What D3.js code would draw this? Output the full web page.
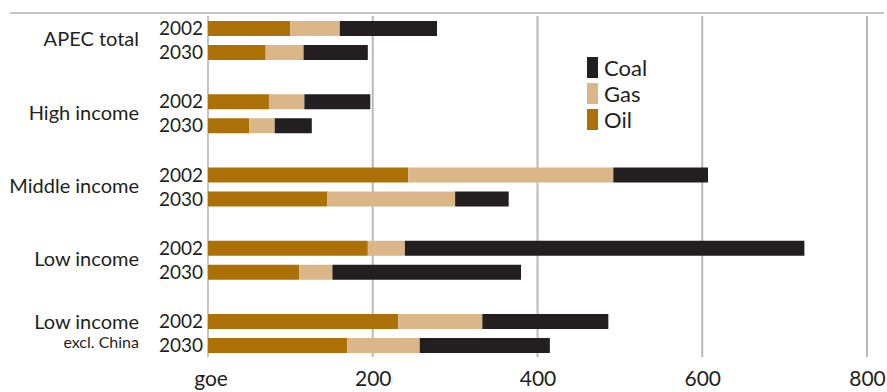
<!DOCTYPE html>
<html>
<head>
<meta charset="utf-8">
<script src="https://cdn.jsdelivr.net/npm/d3@7"></script>
<style>
  html, body { margin: 0; padding: 0; background: #fff; }
  svg { display: block; }
  text { font-family: Lato, "Open Sans", sans-serif; fill: #231f20; font-weight: 400; }
</style>
</head>
<body>
<svg id="chart" width="887" height="392"></svg>
<script>
// Energy demand per unit of output, by income group (goe)
const groups = ["APEC total", "High income", "Middle income", "Low income", "Low income excl. China"];
const years = ["2002", "2030"];
const fuels = ["Oil", "Gas", "Coal"];
const fuelColors = ["#ab7006", "#dbb688", "#231f20"];

// values per group, in the order 2002, 2030
const oil  = [[100, 70], [74, 50], [243, 145], [194, 111], [231, 169]];
const gas  = [[60, 46], [43, 31], [249, 155], [45, 40], [102, 88]];
const coal = [[118, 78], [80, 45], [115, 65], [485, 229], [153, 158]];

const xTicks = [200, 400, 600, 800];
const unitLabel = "goe";

const svg = d3.select("#chart");

const x = d3.scaleLinear().domain([0, 800]).range([208, 867]);
const yGroup = d3.scaleBand().domain(groups).range([21, 353]).paddingInner(0.4676).paddingOuter(0);
const yYear = d3.scaleBand().domain(years).range([0, yGroup.bandwidth()]).paddingInner(0.375).paddingOuter(0);

// rows for stacking
const rows = [];
groups.forEach((g, gi) => {
  years.forEach((yr, yi) => {
    rows.push({ group: g, year: yr, Oil: oil[gi][yi], Gas: gas[gi][yi], Coal: coal[gi][yi] });
  });
});
const stacked = d3.stack().keys(fuels)(rows);
const color = d3.scaleOrdinal().domain(fuels).range(fuelColors);

// frame line across the top
svg.append("line")
  .attr("x1", 10).attr("x2", 884)
  .attr("y1", 13).attr("y2", 13)
  .attr("stroke", "#c6c6c6").attr("stroke-width", 2);

// vertical gridlines
svg.append("g")
  .selectAll("line")
  .data(xTicks)
  .join("line")
  .attr("x1", d => x(d)).attr("x2", d => x(d))
  .attr("y1", 16).attr("y2", 357)
  .attr("stroke", "#b9b9bc").attr("stroke-width", 2);

// zero line
svg.append("line")
  .attr("x1", x(0)).attr("x2", x(0))
  .attr("y1", 16).attr("y2", 357)
  .attr("stroke", "#b0b0b3").attr("stroke-width", 1.5);

// stacked bars
svg.append("g")
  .selectAll("g")
  .data(stacked)
  .join("g")
  .attr("fill", d => color(d.key))
  .selectAll("rect")
  .data(d => d)
  .join("rect")
  .attr("x", d => x(d[0]))
  .attr("width", d => x(d[1]) - x(d[0]))
  .attr("y", d => yGroup(d.data.group) + yYear(d.data.year))
  .attr("height", yYear.bandwidth());

// year labels
svg.append("g")
  .selectAll("text")
  .data(rows)
  .join("text")
  .attr("x", 203)
  .attr("y", d => yGroup(d.group) + yYear(d.year) + yYear.bandwidth() / 2)
  .attr("dy", "0.35em")
  .attr("text-anchor", "end")
  .attr("font-size", 19)
  .text(d => d.year);

// group labels
const gl = svg.append("g");
groups.forEach(g => {
  const mid = yGroup(g) + yGroup.bandwidth() / 2;
  if (g === "Low income excl. China") {
    gl.append("text")
      .attr("x", 139).attr("y", yGroup(g) + yYear("2002") + yYear.bandwidth() / 2)
      .attr("dy", "0.35em").attr("text-anchor", "end").attr("font-size", 20)
      .text("Low income");
    gl.append("text")
      .attr("x", 139).attr("y", yGroup(g) + yYear("2030") + yYear.bandwidth() / 2 - 3)
      .attr("dy", "0.35em").attr("text-anchor", "end").attr("font-size", 16)
      .text("excl. China");
  } else {
    gl.append("text")
      .attr("x", 139).attr("y", mid - 1)
      .attr("dy", "0.35em").attr("text-anchor", "end").attr("font-size", 20)
      .text(g);
  }
});

// x axis tick labels
const xAxis = d3.axisBottom(x).tickValues(xTicks).tickSize(0).tickPadding(0).tickFormat(d3.format("d"));
const axisG = svg.append("g").attr("transform", "translate(0,371)").call(xAxis);
axisG.select(".domain").remove();
axisG.selectAll("text")
  .attr("font-size", 21)
  .attr("fill", "#231f20")
  .attr("font-family", "Lato, 'Open Sans', sans-serif");

svg.append("text")
  .attr("x", x(0) + 3).attr("y", 371)
  .attr("dy", "0.71em")
  .attr("text-anchor", "middle")
  .attr("font-size", 21)
  .text(unitLabel);

// legend
const legendFuels = ["Coal", "Gas", "Oil"];
const lg = svg.append("g").attr("transform", "translate(587,57)");
const item = lg.selectAll("g")
  .data(legendFuels)
  .join("g")
  .attr("transform", (d, i) => `translate(0,${i * 26})`);
item.append("rect")
  .attr("width", 11).attr("height", 21)
  .attr("fill", d => color(d));
item.append("text")
  .attr("x", 17).attr("y", 11)
  .attr("dy", "0.36em")
  .attr("font-size", 22)
  .text(d => d);
</script>
</body>
</html>
